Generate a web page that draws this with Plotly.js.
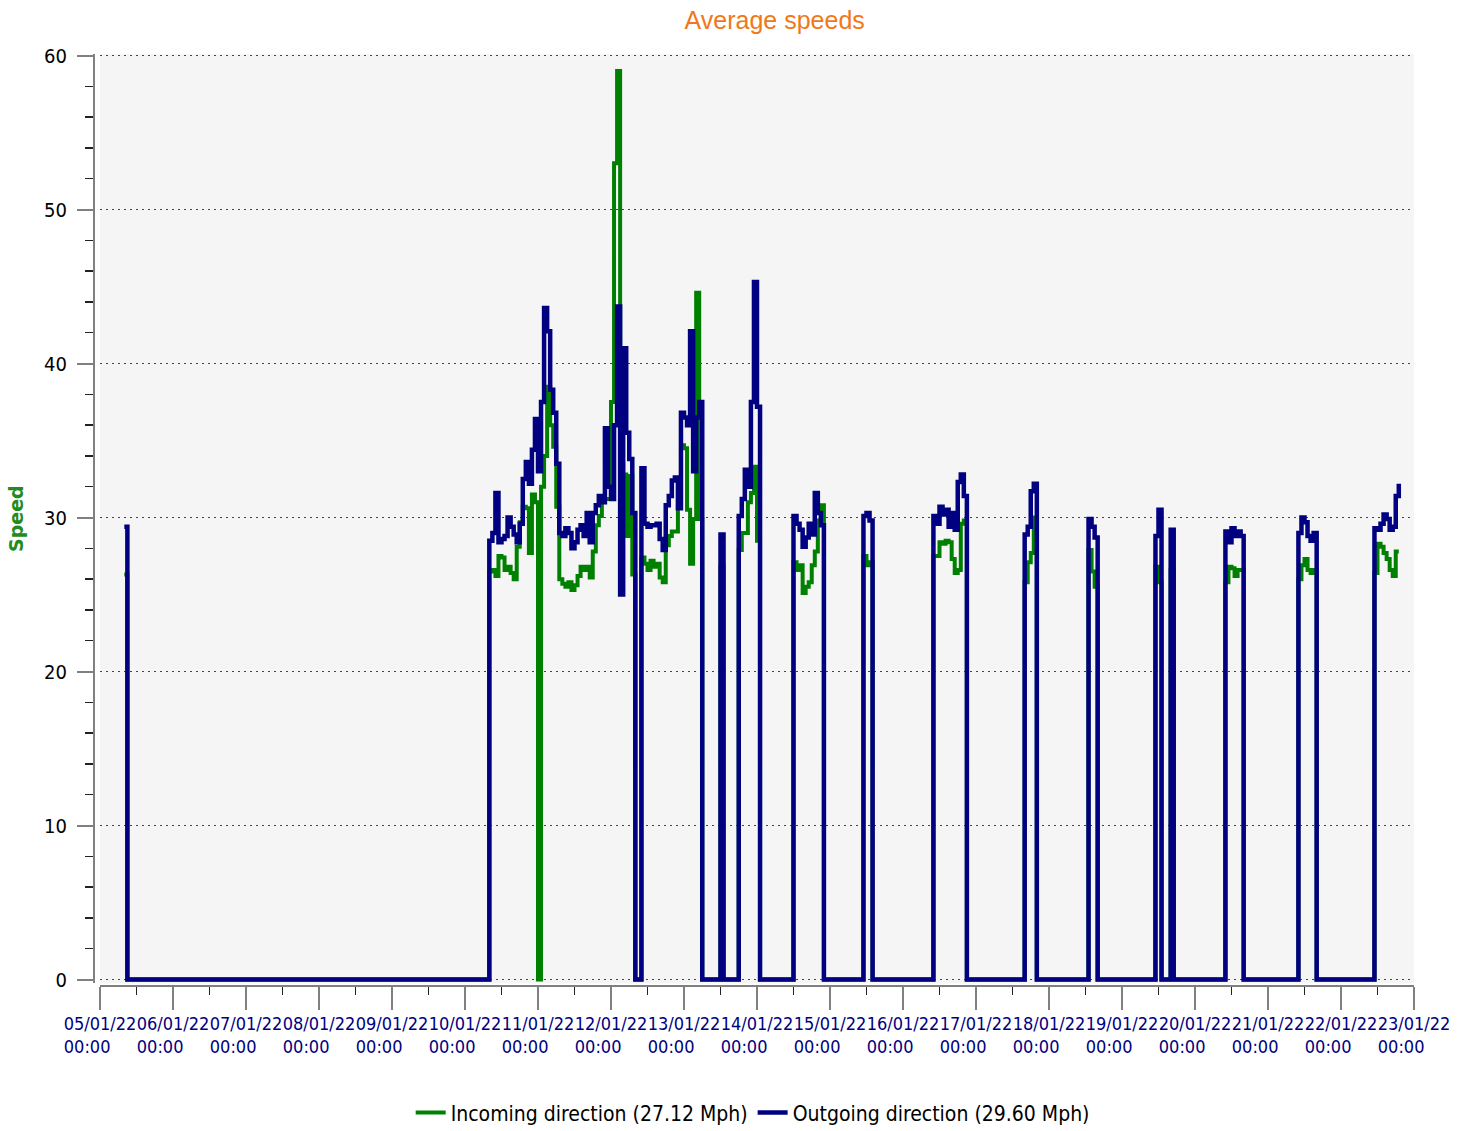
<!DOCTYPE html>
<html>
<head>
<meta charset="utf-8">
<script src="https://cdn.plot.ly/plotly-3.0.1.min.js"></script>
<style>
html, body { margin: 0; padding: 0; background: #ffffff; }
#chart { width: 1470px; height: 1131px; }
</style>
</head>
<body>
<div id="chart"></div>
<script>
const chartTitle = 'Average speeds';
const yAxisTitle = 'Speed';
const seriesNames = ['Incoming direction (27.12 Mph)', 'Outgoing direction (29.60 Mph)'];

const times = [
  '2022-01-05 08:00', '2022-01-05 09:00',
  '2022-01-10 08:00', '2022-01-10 09:00', '2022-01-10 10:00', '2022-01-10 11:00', '2022-01-10 12:00', '2022-01-10 13:00',
  '2022-01-10 14:00', '2022-01-10 15:00', '2022-01-10 16:00', '2022-01-10 17:00', '2022-01-10 18:00', '2022-01-10 19:00',
  '2022-01-10 20:00', '2022-01-10 21:00', '2022-01-10 22:00', '2022-01-10 23:00',
  '2022-01-11 00:00', '2022-01-11 01:00', '2022-01-11 02:00', '2022-01-11 03:00', '2022-01-11 04:00', '2022-01-11 05:00',
  '2022-01-11 06:00', '2022-01-11 07:00', '2022-01-11 08:00', '2022-01-11 09:00', '2022-01-11 10:00', '2022-01-11 11:00',
  '2022-01-11 12:00', '2022-01-11 13:00', '2022-01-11 14:00', '2022-01-11 15:00', '2022-01-11 16:00', '2022-01-11 17:00',
  '2022-01-11 18:00', '2022-01-11 19:00', '2022-01-11 20:00', '2022-01-11 21:00', '2022-01-11 22:00', '2022-01-11 23:00',
  '2022-01-12 00:00', '2022-01-12 01:00', '2022-01-12 02:00', '2022-01-12 03:00', '2022-01-12 04:00', '2022-01-12 05:00',
  '2022-01-12 06:00', '2022-01-12 07:00', '2022-01-12 08:00',
  '2022-01-12 10:00', '2022-01-12 11:00', '2022-01-12 12:00', '2022-01-12 13:00', '2022-01-12 14:00', '2022-01-12 15:00',
  '2022-01-12 16:00', '2022-01-12 17:00', '2022-01-12 18:00', '2022-01-12 19:00', '2022-01-12 20:00', '2022-01-12 21:00',
  '2022-01-12 22:00', '2022-01-12 23:00',
  '2022-01-13 00:00', '2022-01-13 01:00', '2022-01-13 02:00', '2022-01-13 03:00', '2022-01-13 04:00', '2022-01-13 05:00',
  '2022-01-13 06:00',
  '2022-01-13 12:00', '2022-01-13 13:00',
  '2022-01-13 18:00', '2022-01-13 19:00', '2022-01-13 20:00', '2022-01-13 21:00', '2022-01-13 22:00', '2022-01-13 23:00',
  '2022-01-14 00:00', '2022-01-14 01:00',
  '2022-01-14 12:00', '2022-01-14 13:00', '2022-01-14 14:00', '2022-01-14 15:00', '2022-01-14 16:00', '2022-01-14 17:00',
  '2022-01-14 18:00', '2022-01-14 19:00', '2022-01-14 20:00', '2022-01-14 21:00', '2022-01-14 22:00',
  '2022-01-15 11:00', '2022-01-15 12:00', '2022-01-15 13:00', '2022-01-15 14:00',
  '2022-01-16 10:00', '2022-01-16 11:00', '2022-01-16 12:00', '2022-01-16 13:00', '2022-01-16 14:00', '2022-01-16 15:00',
  '2022-01-16 16:00', '2022-01-16 17:00', '2022-01-16 18:00', '2022-01-16 19:00', '2022-01-16 20:00', '2022-01-16 21:00',
  '2022-01-17 16:00', '2022-01-17 17:00', '2022-01-17 18:00', '2022-01-17 19:00', '2022-01-17 20:00',
  '2022-01-18 13:00', '2022-01-18 14:00', '2022-01-18 15:00', '2022-01-18 16:00',
  '2022-01-19 11:00', '2022-01-19 12:00', '2022-01-19 13:00',
  '2022-01-19 16:00', '2022-01-19 17:00',
  '2022-01-20 10:00', '2022-01-20 11:00', '2022-01-20 12:00', '2022-01-20 13:00', '2022-01-20 14:00', '2022-01-20 15:00',
  '2022-01-20 16:00',
  '2022-01-21 10:00', '2022-01-21 11:00', '2022-01-21 12:00', '2022-01-21 13:00', '2022-01-21 14:00', '2022-01-21 15:00',
  '2022-01-21 16:00',
  '2022-01-22 11:00', '2022-01-22 12:00', '2022-01-22 13:00', '2022-01-22 14:00', '2022-01-22 15:00', '2022-01-22 16:00',
  '2022-01-22 17:00', '2022-01-22 18:00', '2022-01-22 19:00'
];

const incoming = [
  26.3, 0,
  26.5, 26.6, 26.2, 27.5, 27.4, 26.6, 26.8, 26.4, 26.0, 28.1, 29.7, 30.7, 30.6, 27.7, 31.5, 31.0,
  0, 32.0, 34.0, 38.5, 36.0, 34.6, 30.7, 26.0, 25.7, 25.5, 25.8, 25.3,
  25.6, 26.2, 26.8, 26.6, 26.8, 26.1, 27.8, 29.5, 30.1, 31.2, 31.2, 31.2,
  37.5, 53.0, 59.0, 33.5, 32.8, 28.8, 32.7, 26.3, 0,
  27.4, 27.0, 26.6, 27.2, 26.8, 27.0, 26.1, 25.8, 28.2, 28.8, 29.1, 29.1, 30.7, 34.7,
  34.5, 30.5, 27.0, 29.9, 44.6, 29.9, 0,
  26.8, 0,
  27.9, 29.0, 29.0, 31.0, 31.6, 33.3,
  28.5, 0,
  27.1, 26.6, 26.9, 25.1, 25.5, 25.8, 26.9, 27.8, 29.8, 30.8, 0,
  27.5, 26.9, 27.1, 0,
  27.5, 27.5, 28.4, 28.3, 28.5, 28.4, 27.3, 26.4, 26.6, 29.6, 29.8, 0,
  25.8, 27.1, 27.7, 30.0, 0,
  27.9, 26.5, 25.5, 0,
  26.8, 25.8, 0,
  26.6, 0,
  25.8, 26.8, 26.7, 26.2, 26.6, 26.6, 0,
  26.0, 26.9, 27.3, 26.6, 26.4, 26.6, 0,
  26.4, 28.3, 28.1, 27.7, 27.3, 26.6, 26.2, 27.8, 27.8
];

const outgoing = [
  29.4, 0,
  28.5, 29.0, 31.6, 28.4, 28.6, 28.8, 30.0, 29.4, 28.9, 28.4, 29.6, 32.5, 33.6, 32.2, 34.4, 36.4,
  33.0, 37.5, 43.6, 42.1, 38.3, 36.8, 33.5, 29.0, 28.8, 29.3, 29.0, 28.0,
  28.4, 29.2, 29.5, 28.8, 30.3, 28.4, 30.3, 30.8, 31.4, 31.0, 35.8, 32.0,
  31.2, 36.0, 43.7, 25.0, 41.0, 35.5, 33.8, 30.3, 0,
  33.2, 29.6, 29.4, 29.5, 29.5, 29.6, 28.6, 27.9, 30.8, 31.4, 32.4, 32.6, 30.6, 36.8,
  36.5, 36.0, 42.1, 33.0, 36.5, 37.5, 0,
  28.9, 0,
  30.1, 31.2, 33.1, 32.0, 37.5, 45.3,
  37.2, 0,
  30.1, 29.6, 29.2, 28.1, 28.7, 29.6, 28.9, 31.6, 30.3, 29.5, 0,
  30.1, 30.3, 29.8, 0,
  30.1, 29.6, 30.7, 30.2, 30.5, 29.4, 30.3, 29.2, 32.3, 32.8, 31.4, 0,
  28.9, 29.4, 31.7, 32.2, 0,
  29.9, 29.4, 28.7, 0,
  28.8, 30.5, 0,
  29.2, 0,
  29.1, 28.4, 29.3, 28.8, 29.1, 28.8, 0,
  29.0, 30.0, 29.7, 28.8, 28.5, 29.0, 0,
  29.3, 29.2, 29.6, 30.2, 29.9, 29.2, 29.4, 31.4, 32.2
];

const tickFontFamily = 'DejaVu Sans Condensed, Liberation Sans, sans-serif';
// date on the first line, time on the second, padded so both lines start at the same left edge
const xTickFormat = '%d/%m/%y<br>%H:%M\u2007\u2007\u2008';

const traces = [
  {
    type: 'scatter', mode: 'lines', name: seriesNames[0],
    x: times, y: incoming,
    line: { color: '#008000', width: 4, shape: 'hv' }
  },
  {
    type: 'scatter', mode: 'lines', name: seriesNames[1],
    x: times, y: outgoing,
    line: { color: '#000080', width: 4.5, shape: 'hv' }
  }
];

const layout = {
  width: 1470,
  height: 1131,
  paper_bgcolor: '#ffffff',
  plot_bgcolor: '#f5f5f5',
  margin: { l: 94, r: 56, t: 54, b: 145, pad: 0, autoexpand: false },
  title: {
    text: chartTitle,
    font: { family: 'Liberation Sans, Arial, sans-serif', size: 25, color: '#f07818' },
    xref: 'container', x: 0.527, xanchor: 'center',
    yref: 'container', y: 0.982, yanchor: 'middle'
  },
  showlegend: true,
  legend: {
    orientation: 'h',
    x: 0.499, xanchor: 'center',
    y: -0.136, yanchor: 'middle',
    font: { family: tickFontFamily, size: 21, color: '#000000' },
    itemwidth: 30,
    bgcolor: 'rgba(0,0,0,0)'
  },
  xaxis: {
    type: 'date',
    domain: [0.004545, 1],
    anchor: 'free',
    position: 0,
    automargin: false,
    range: ['2022-01-05 00:00', '2022-01-23 00:00'],
    tick0: '2022-01-05 00:00',
    dtick: 86400000,
    tickformat: xTickFormat,
    tickangle: 0,
    ticklabelstandoff: -2,
    ticks: 'outside',
    ticklen: 23,
    tickwidth: 2,
    tickcolor: '#808080',
    showline: true,
    linecolor: '#808080',
    linewidth: 2,
    showgrid: false,
    zeroline: false,
    tickfont: { family: tickFontFamily, size: 18, color: '#000080' },
    minor: { dtick: 43200000, ticks: 'outside', ticklen: 8, tickwidth: 1.5, tickcolor: '#222222', showgrid: false }
  },
  yaxis: {
    domain: [0.0028, 1],
    anchor: 'free',
    position: 0,
    automargin: false,
    range: [-0.25, 60.1],
    tick0: 0,
    dtick: 10,
    ticks: 'outside',
    ticklen: 16,
    tickwidth: 2,
    tickcolor: '#808080',
    ticklabelstandoff: 6,
    showline: true,
    linecolor: '#808080',
    linewidth: 2,
    showgrid: true,
    gridcolor: '#3434c8',
    gridwidth: 1,
    griddash: '2px,4px',
    zeroline: false,
    tickfont: { family: tickFontFamily, size: 20, color: '#000000' },
    minor: { dtick: 2, ticks: 'outside', ticklen: 8, tickwidth: 1.5, tickcolor: '#222222', showgrid: false },
    title: {
      text: yAxisTitle,
      font: { family: 'DejaVu Sans, sans-serif', size: 19, color: '#1e8c1e', weight: 'bold' },
      standoff: 14
    }
  }
};

Plotly.newPlot('chart', traces, layout, { displayModeBar: false, staticPlot: true });
</script>
</body>
</html>
